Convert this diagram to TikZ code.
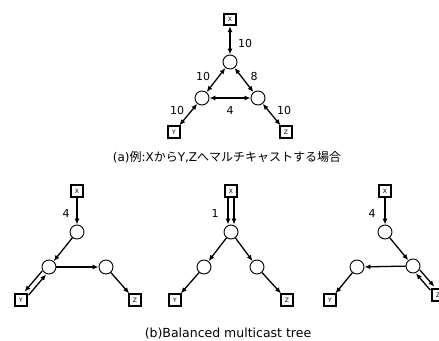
\documentclass[tikz,border=0pt]{standalone}
\usepackage{fontspec}
\setmainfont{DejaVu Sans}
\newfontfamily\cjk{Noto Sans CJK JP}
\usetikzlibrary{arrows.meta, calc}

\begin{document}
\begin{tikzpicture}[x=1pt, y=-1pt,
    host/.style={draw, line width=1.7pt, minimum size=11.5pt, inner sep=0pt, font=\fontsize{6}{7}\selectfont},
    router/.style={draw, circle, line width=0.9pt, minimum size=14pt, inner sep=0pt},
    link/.style={line width=1.3pt, -{Latex[length=6pt,width=5pt]}},
    both/.style={line width=1.3pt, {Latex[length=6pt,width=5pt]}-{Latex[length=6pt,width=5pt]}},
    num/.style={font=\fontsize{11}{13}\selectfont}]
    \useasboundingbox (0,0) rectangle (439,340);

    % (a) network
    \node[host] (xa) at (230,19.5) {X};
    \node[router] (a0) at (230,62) {};
    \node[router] (a1) at (202,98) {};
    \node[router] (a2) at (258,98) {};
    \node[host] (ya) at (174,132) {Y};
    \node[host] (za) at (286,132) {Z};
    \draw[both] (xa) -- (a0);
    \draw[both] (a0) -- (a1);
    \draw[both] (a0) -- (a2);
    \draw[both] (a1) -- (a2);
    \draw[both] (a1) -- (ya);
    \draw[both] (a2) -- (za);
    \node[num] at (245,43) {10};
    \node[num] at (203,76) {10};
    \node[num] at (254,76) {8};
    \node[num] at (230,110) {4};
    \node[num] at (177,110) {10};
    \node[num] at (284,110) {10};
    \node[font=\fontsize{12}{14}\selectfont] (capa) at (227,157)
        {(a){\cjk 例}:X{\cjk から}Y,Z{\cjk へマルチキャストする場合}};

    % (b) left tree
    \node[host] (xb) at (77,191) {X};
    \node[router] (b0) at (77,232) {};
    \node[router] (b1) at (49,267) {};
    \node[router] (b2) at (106,267) {};
    \node[host] (yb) at (21,300) {Y};
    \node[host] (zb) at (135,300) {Z};
    \draw[link] (xb) -- (b0);
    \draw[link] (b0) -- (b1);
    \draw[link] (b1) -- (b2);
    \draw[link] (b2) -- (zb);
    \draw[link, transform canvas={shift={(-2pt,1.7pt)}}] (b1) -- (yb);
    \draw[link, transform canvas={shift={(2pt,-1.7pt)}}] (yb) -- (b1);
    \node[num] at (66,213) {4};

    % (b) middle tree
    \node[host] (xc) at (231,191) {X};
    \node[router] (c0) at (231,232) {};
    \node[router] (c1) at (204,267) {};
    \node[router] (c2) at (257,267) {};
    \node[host] (yc) at (175,300) {Y};
    \node[host] (zc) at (287,300) {Z};
    \draw[link, transform canvas={shift={(-3pt,0pt)}}] (xc) -- (c0);
    \draw[link, transform canvas={shift={(3pt,0pt)}}] (xc) -- (c0);
    \draw[link] (c0) -- (c1);
    \draw[link] (c0) -- (c2);
    \draw[link] (c1) -- (yc);
    \draw[link] (c2) -- (zc);
    \node[num] at (215,213) {1};

    % (b) right tree
    \node[host] (xd) at (385,191) {X};
    \node[router] (d0) at (385,232) {};
    \node[router] (d1) at (357,267) {};
    \node[router] (d2) at (413,266) {};
    \node[host] (yd) at (330,300) {Y};
    \node[host] (zd) at (438,295) {Z};
    \draw[link] (xd) -- (d0);
    \draw[link] (d0) -- (d2);
    \draw[link] (d2) -- (d1);
    \draw[link] (d1) -- (yd);
    \draw[link, transform canvas={shift={(2pt,1.7pt)}}] (d2) -- (zd);
    \draw[link, transform canvas={shift={(-2pt,-1.7pt)}}] (zd) -- (d2);
    \node[num] at (372,213) {4};

    \node[font=\fontsize{12.5}{14}\selectfont] (capb) at (228,334) {(b)Balanced multicast tree};
\end{tikzpicture}
\end{document}
